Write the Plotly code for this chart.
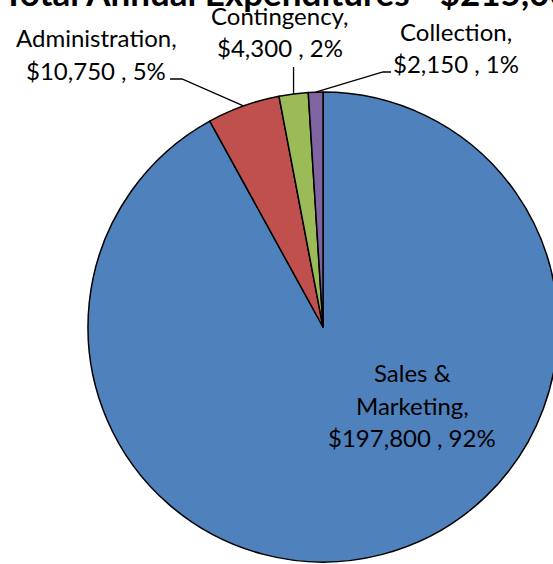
import plotly.graph_objects as go
import math

categories = ["Sales & Marketing", "Administration", "Contingency", "Collection"]
values = [197800, 10750, 4300, 2150]
colors = ["#4F81BD", "#C0504D", "#9BBB59", "#8064A2"]
title_text = "Total Annual Expenditures - $215,000"

W, H = 558, 564
ML, MR, MT, MB = 88, 0, 92, 2
PW, PH = W - ML - MR, H - MT - MB
R = min(PW, PH) / 2
CX, CY = ML + PW / 2, MT + PH / 2


def px(x):
    return (x - ML) / PW


def py(y):
    return (H - MB - y) / PH


FONT = "Lato, Calibri, sans-serif"
FS = 24

total = sum(values)
pcts = [round(v / total * 100) for v in values]

fig = go.Figure(go.Pie(
    labels=categories, values=values, sort=False, direction="clockwise",
    rotation=0, marker=dict(colors=colors, line=dict(color="black", width=1.5)),
    textinfo="none", hoverinfo="label+value+percent", showlegend=False,
    domain=dict(x=[0, 1], y=[0, 1]),
))

# slice mid-angle edge points (computed from values)
edges = []
cum = 0
for v in values:
    mid = (cum + v / 2) / total * 2 * math.pi
    edges.append((CX + R * math.sin(mid), CY - R * math.cos(mid)))
    cum += v

label_lines = [[f"{c},", f"${v:,} , {p}%"] for c, v, p in zip(categories, values, pcts)]
label_lines[0] = ["Sales &", "Marketing,", f"${values[0]:,} , {pcts[0]}%"]

# label layout: (center x, first baseline y, line spacing)
label_pos = [(412, 382, 32.5), (96, 47, 33), (280, 25, 32), (456, 41, 32)]

annotations = []
for lines, (lx, ly, ls) in zip(label_lines, label_pos):
    for i, t in enumerate(lines):
        base = ly + i * ls
        annotations.append(dict(
            text=t, x=px(lx), y=py(base - 0.387 * FS), xref="paper", yref="paper",
            xanchor="center", yanchor="middle", showarrow=False,
            font=dict(family=FONT, size=FS, color="black"),
        ))

TS = 35
annotations.append(dict(
    text=f"<b>{title_text}</b>", x=px(296), y=py(5.5 - 0.387 * TS), xref="paper", yref="paper",
    xanchor="center", yanchor="middle", showarrow=False,
    font=dict(family=FONT, size=TS, color="black"),
))

# leader lines
shapes = []
ex, ey = edges[1]
shapes.append(dict(type="path", xref="paper", yref="paper",
                   path=f"M {px(170)},{py(79)} L {px(182)},{py(79)} L {px(ex)},{py(ey)}",
                   line=dict(color="black", width=1.3)))
ex, ey = edges[2]
shapes.append(dict(type="path", xref="paper", yref="paper",
                   path=f"M {px(ex)},{py(67)} L {px(ex)},{py(ey)}",
                   line=dict(color="black", width=1.3)))
ex, ey = edges[3]
shapes.append(dict(type="path", xref="paper", yref="paper",
                   path=f"M {px(391)},{py(72)} L {px(383)},{py(72)} L {px(ex)},{py(ey)}",
                   line=dict(color="black", width=1.3)))

fig.update_layout(
    width=W, height=H, margin=dict(l=ML, r=MR, t=MT, b=MB, pad=0),
    paper_bgcolor="white", plot_bgcolor="white",
    annotations=annotations, shapes=shapes,
)

fig.write_html("out.html", post_script=(
    "document.documentElement.style.overflow='hidden';"
    "document.body.style.overflow='hidden';document.body.style.margin='0';"
))
